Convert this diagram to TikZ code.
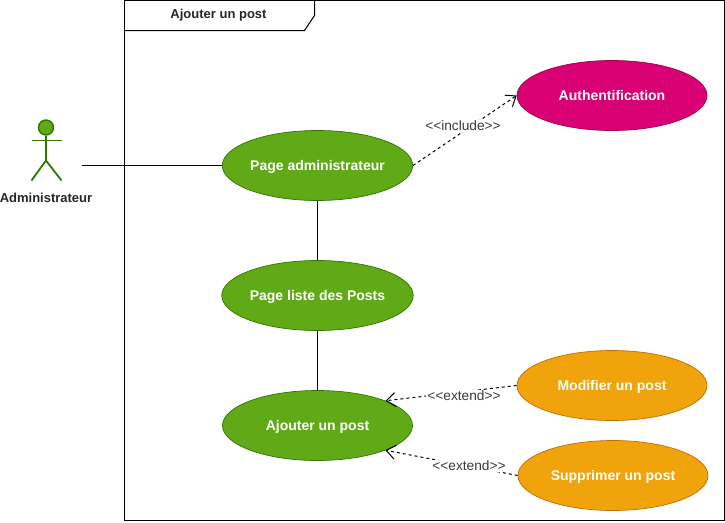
\documentclass[tikz,border=0pt]{standalone}
\usepackage{fontspec}
\setmainfont{Liberation Sans}
\usetikzlibrary{shapes.geometric,arrows.meta}
\definecolor{gfill}{HTML}{60A917}
\definecolor{gline}{HTML}{2D7600}
\definecolor{pfill}{HTML}{D80073}
\definecolor{pline}{HTML}{A50040}
\definecolor{ofill}{HTML}{F0A30A}
\definecolor{oline}{HTML}{BD7000}
\definecolor{lbl}{HTML}{3B3B3B}
\newcommand{\ltlt}{<{}<}
\newcommand{\gtgt}{>{}>}
\tikzset{
  usecase/.style={ellipse,draw,line width=0.7pt,minimum width=190pt,minimum height=70pt,inner sep=0pt,text=white,font=\fontsize{14}{16}\selectfont\bfseries,text depth=0pt,text height=10pt},
  greencase/.style={usecase,fill=gfill,draw=gline},
  pinkcase/.style={usecase,fill=pfill,draw=pline},
  orangecase/.style={usecase,fill=ofill,draw=oline},
  assoc/.style={draw=black,line width=1pt},
  dep/.style={draw=black,line width=1pt,dash pattern=on 3pt off 3pt,-{Straight Barb[length=9pt,width=14pt,line width=1pt]}},
  deplabel/.style={fill=white,inner sep=1pt,text=lbl,font=\fontsize{13.7}{15}\selectfont},
  actorline/.style={draw=gline,line width=1.8pt},
  plainbold/.style={font=\fontsize{13}{15}\selectfont\bfseries,text=black!85}
}
\begin{document}
\begin{tikzpicture}[x=1pt,y=-1pt]
\useasboundingbox (0,0) rectangle (725,522);
% frame
\draw[line width=1pt] (124.5,0.5) rectangle (724.5,520.5);
\draw[line width=1pt] (124.5,30.5) -- (304.5,30.5) -- (314.5,15.5) -- (314.5,0.5);
\node[plainbold] (title) at (218.5,15) {Ajouter un post};
% actor
\node[circle,draw=gline,fill=gfill,line width=1.4pt,minimum size=15pt,inner sep=0pt] (head) at (46,127.5) {};
\coordinate (hip) at (46,160.5);
\coordinate (handl) at (31.5,140.5);
\coordinate (handr) at (61.5,140.5);
\coordinate (footl) at (31.5,180.5);
\coordinate (footr) at (61.5,180.5);
\draw[actorline] (head.south) -- (hip);
\draw[actorline] (handl) -- (handr);
\draw[actorline] (footl) -- (hip) -- (footr);
\node[plainbold] (actorname) at (46,197.5) {Administrateur};
\coordinate (actorend) at (82,165.5);
% use cases
\node[greencase] (admin) at (317.5,165.5) {Page administrateur};
\node[pinkcase] (auth) at (612,95.5) {Authentification};
\node[greencase] (liste) at (317.5,295.5) {Page liste des Posts};
\node[greencase] (ajout) at (317.5,425.5) {Ajouter un post};
\node[orangecase] (modif) at (612,385.5) {Modifier un post};
\node[orangecase] (suppr) at (613,475.5) {Supprimer un post};
% connectors
\draw[assoc] (actorend) -- (admin.west);
\draw[assoc] (admin) -- (liste);
\draw[assoc] (liste) -- (ajout);
\draw[dep] (admin.east) -- (auth.west);
\draw[dep] (modif.west) -- (ajout.20);
\draw[dep] (suppr.west) -- (ajout.-20);
\node[deplabel] (inc) at (463,126) {\ltlt include\gtgt};
\node[deplabel] (ext1) at (464,396) {\ltlt extend\gtgt};
\node[deplabel] (ext2) at (469,466) {\ltlt extend\gtgt};
\end{tikzpicture}
\end{document}
